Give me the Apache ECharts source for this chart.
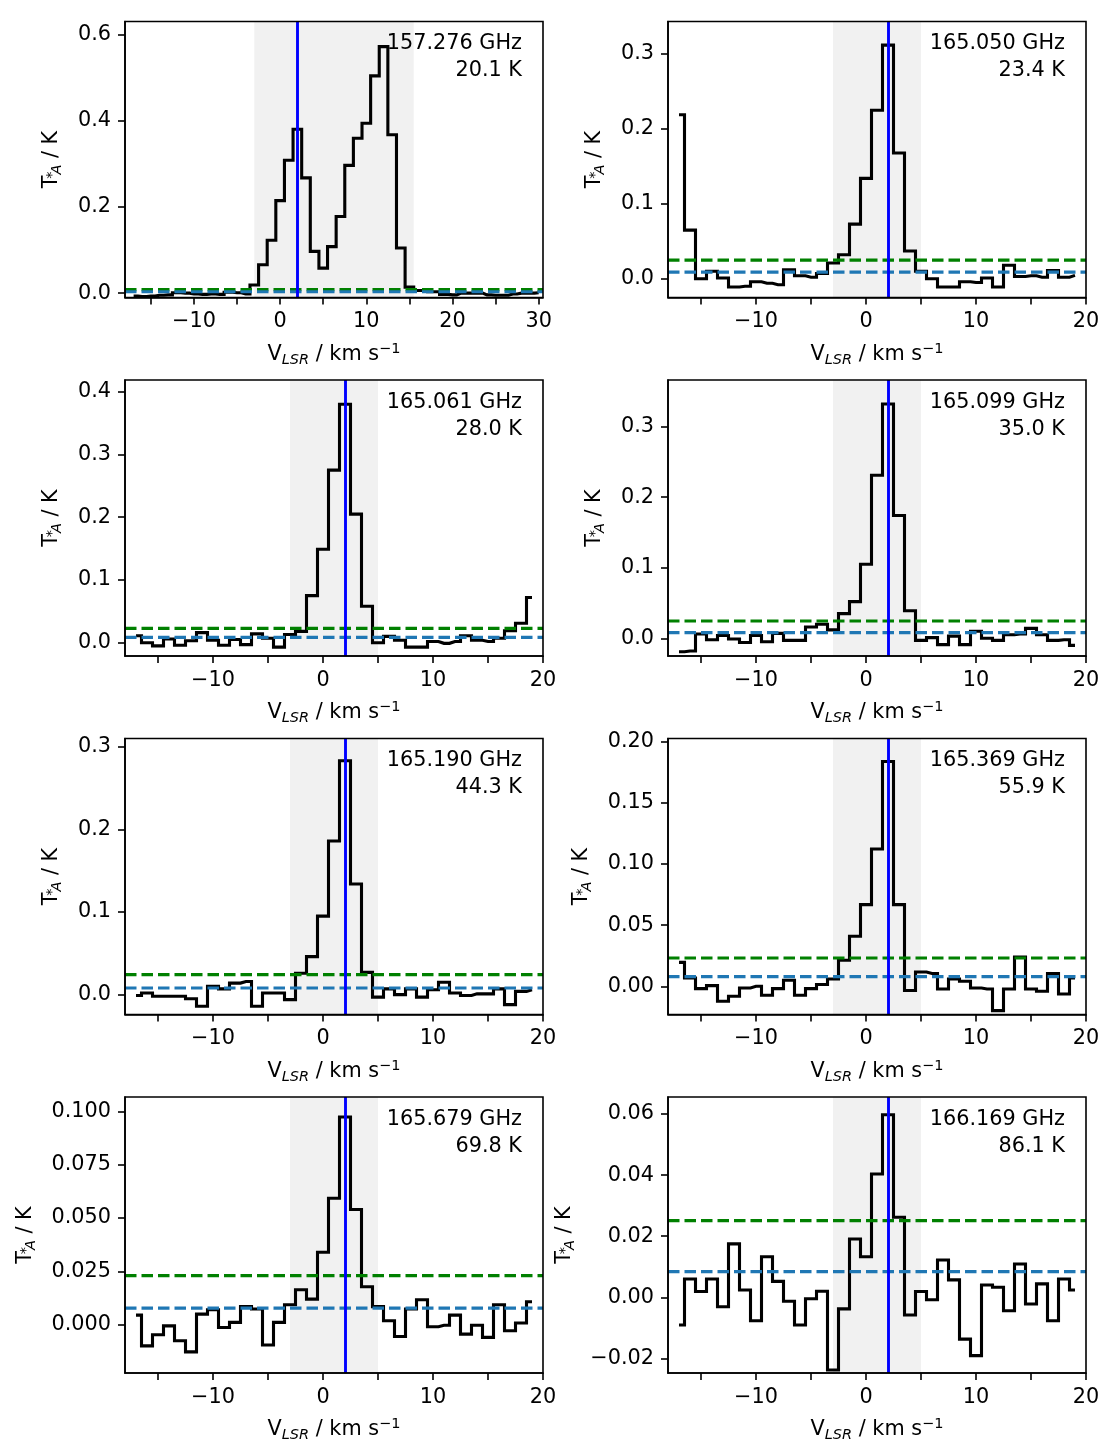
<!DOCTYPE html>
<html>
<head>
<meta charset="utf-8">
<script src="https://cdn.jsdelivr.net/npm/echarts@6/dist/echarts.min.js"></script>
<style>
  html, body { margin: 0; padding: 0; background: #fff; }
  #chart { width: 1115px; height: 1454px; }
</style>
</head>
<body>
<div id="chart"></div>
<script>
// channel velocities (km/s)
const velWide = [-17, -16, -15, -14, -13, -12, -11, -10, -9, -8, -7, -6, -5, -4, -3, -2, -1, 0, 1, 2, 3, 4, 5,
  6, 7, 8, 9, 10, 11, 12, 13, 14, 15, 16, 17, 18, 19, 20, 21, 22, 23, 24, 25, 26, 27, 28, 29, 30];
const velNarrow = [-17, -16, -15, -14, -13, -12, -11, -10, -9, -8, -7, -6, -5, -4, -3, -2, -1, 0, 1, 2, 3, 4, 5,
  6, 7, 8, 9, 10, 11, 12, 13, 14, 15, 16, 17, 18, 19];

// panel annotations
const freqLabels = ['157.276 GHz', '165.050 GHz', '165.061 GHz', '165.099 GHz',
  '165.190 GHz', '165.369 GHz', '165.679 GHz', '166.169 GHz'];
const eupLabels = ['20.1 K', '23.4 K', '28.0 K', '35.0 K', '44.3 K', '55.9 K', '69.8 K', '86.1 K'];

// spectra, T*A (K)
const spec157276 = [-0.007, -0.008, -0.007, -0.005, -0.004, 0.001, 0.000, -0.002, -0.003, -0.002, -0.003, 0.002, 0.001, -0.002,
  0.019, 0.066, 0.123, 0.215, 0.309, 0.381, 0.268, 0.097, 0.058, 0.108, 0.178, 0.297, 0.360, 0.395, 0.505, 0.573, 0.368, 0.105, 0.014,
  0.006, 0.003, 0.003, -0.003, -0.004, 0.000, 0.000, 0.000, -0.004, -0.005, -0.005, -0.002, 0.000, 0.000, 0.001];
const spec165050 = [0.219, 0.065, 0.000, 0.010, 0.001, -0.011, -0.010, -0.004, -0.006, -0.008, 0.012, 0.004, 0.002, 0.007,
  0.021, 0.032, 0.073, 0.134, 0.225, 0.312, 0.168, 0.037, 0.010, 0.000, -0.011, -0.011, -0.004, -0.005, 0.001, -0.011,
  0.018, 0.003, 0.004, 0.002, 0.011, 0.002, 0.0045];
const spec165061 = [0.011, 0.000, -0.005, 0.006, -0.004, 0.003, 0.016, 0.004, -0.004, 0.005, -0.003, 0.014, 0.007, -0.007,
  0.013, 0.018, 0.075, 0.149, 0.275, 0.380, 0.205, 0.058, 0.000, 0.010, 0.004, -0.007, -0.007, 0.002, -0.001, 0.002,
  0.011, 0.004, 0.002, 0.007, 0.019, 0.031, 0.072];
const spec165099 = [-0.019, -0.018, 0.006, -0.002, 0.004, -0.001, -0.006, 0.004, -0.005, 0.007, -0.003, -0.003, 0.016, 0.020,
  0.012, 0.035, 0.052, 0.105, 0.231, 0.332, 0.174, 0.039, -0.003, 0.001, -0.009, 0.003, -0.009, 0.010, 0.000, -0.003,
  0.005, 0.006, 0.014, 0.005, -0.003, -0.002, -0.010];
const spec165190 = [-0.001, 0.002, -0.002, -0.002, -0.002, -0.005, -0.014, 0.010, 0.007, 0.014, 0.016, -0.014, 0.002, 0.002,
  -0.006, 0.026, 0.046, 0.095, 0.186, 0.283, 0.134, 0.027, -0.003, 0.007, 0.000, 0.007, -0.003, 0.006, 0.015, 0.002,
  -0.001, 0.001, 0.001, 0.007, -0.012, 0.004, 0.006];
const spec165369 = [0.0196, 0.0068, -0.0019, 0.0005, -0.0123, -0.0082, -0.0014, 0.0000, -0.0074, -0.0019, 0.0049, -0.0074,
  -0.0019, 0.0014, 0.0060, 0.0213, 0.0410, 0.0668, 0.1124, 0.1840, 0.0668, -0.0035, 0.0117, 0.0104, -0.0022, 0.0060,
  0.0041, -0.0014, -0.0022, -0.0199, -0.0022, 0.0240, -0.0022, -0.0041, 0.0104, -0.0063, 0.0068];
const spec165679 = [0.0045, -0.0099, -0.0047, -0.0005, -0.0075, -0.0127, 0.0050, 0.0070, -0.0013, 0.0011, 0.0085, 0.0074,
  -0.0095, 0.0011, 0.0094, 0.0164, 0.0120, 0.0340, 0.0593, 0.0973, 0.0540, 0.0178, 0.0085, 0.0019, -0.0055, 0.0074,
  0.0117, -0.0009, -0.0002, 0.0045, -0.0044, -0.0002, -0.0059, 0.0094, -0.0028, 0.0008, 0.0108];
const spec166169 = [-0.0091, 0.0060, 0.0019, 0.0060, -0.0031, 0.0175, 0.0024, -0.0077, 0.0133, 0.0052, -0.0013, -0.0091,
  -0.0005, 0.0020, -0.0238, -0.0038, 0.0191, 0.0133, 0.0404, 0.0598, 0.0262, -0.0058, 0.0019, -0.0008, 0.0122, 0.0057,
  -0.0137, -0.0191, 0.0040, 0.0033, -0.0044, 0.0109, -0.0022, 0.0044, -0.0077, 0.0060, 0.0024];

// noise levels (K): detection limit (green) and rms (blue)
const detLimit = [0.008, 0.0249, 0.0228, 0.0246, 0.0242, 0.0232, 0.0230, 0.0251];
const rmsLevel = [0.003, 0.0089, 0.0085, 0.0080, 0.0081, 0.0079, 0.0078, 0.0084];

// integration windows and systemic velocity (km/s)
const winLo = [-3, -3, -3, -3, -3, -3, -3, -3];
const winHi = [15.5, 5, 5, 5, 5, 5, 5, 5];
const vSys = 2;

// axis ticks
const xTicksWide = [-15, -10, -5, 0, 5, 10, 15, 20, 25, 30];
const xLabelsWide = [-10, 0, 10, 20, 30];
const xTicksNarrow = [-15, -10, -5, 0, 5, 10, 15, 20];
const xLabelsNarrow = [-10, 0, 10, 20];
const yTicks = [
  [0, 0.2, 0.4, 0.6],
  [0, 0.1, 0.2, 0.3],
  [0, 0.1, 0.2, 0.3, 0.4],
  [0, 0.1, 0.2, 0.3],
  [0, 0.1, 0.2, 0.3],
  [0, 0.05, 0.1, 0.15, 0.2],
  [0, 0.025, 0.05, 0.075, 0.1],
  [-0.02, 0, 0.02, 0.04, 0.06]
];
const yDecimals = [1, 1, 1, 1, 1, 2, 3, 2];

// layout
const yRanges = [[-0.0102, 0.6314], [-0.025, 0.3435], [-0.0212, 0.4187], [-0.0251, 0.3661],
  [-0.024, 0.310], [-0.0231, 0.2028], [-0.0226, 0.1067], [-0.0248, 0.0656]];
const colLeft = [125, 668];
const rowTop = [21.5, 380, 738.5, 1097];
const plotW = 418, plotH = 276;
const yNameGap = [60, 60, 60, 60, 60, 73, 86, 90];
const FONT = 'DejaVu Sans';
const FS = 20.8;

const spectra = [spec157276, spec165050, spec165061, spec165099, spec165190, spec165369, spec165679, spec166169];

function fmt(v, dec) {
  const s = Math.abs(v).toFixed(dec);
  return v < -1e-12 ? '\u2212' + s : s;
}

const richName = {
  n: { fontSize: FS, fontFamily: FONT, color: '#000', lineHeight: 26 },
  sub: { fontSize: 14.5, fontFamily: FONT, fontStyle: 'italic', color: '#000', lineHeight: 12, verticalAlign: 'bottom' },
  sup: { fontSize: 14.5, fontFamily: FONT, color: '#000', lineHeight: 20, verticalAlign: 'top' },
  star: { fontSize: 14.5, fontFamily: FONT, color: '#000', lineHeight: 26, width: 1 }
};

const chart = echarts.init(document.getElementById('chart'));
const grids = [], xAxes = [], yAxes = [], series = [], graphics = [];

for (let i = 0; i < 8; i++) {
  const col = i % 2, row = Math.floor(i / 2);
  const left = colLeft[col], top = rowTop[row];
  const wide = i === 0;
  const vel = wide ? velWide : velNarrow;
  const xr = wide ? [-18, 30.5] : [-18, 20];

  grids.push({
    left: left, top: top, width: plotW, height: plotH,
    show: true, borderColor: '#000', borderWidth: 1.6, backgroundColor: 'transparent',
    containLabel: false, outerBoundsMode: 'none', z: 10
  });

  xAxes.push({
    gridIndex: i, type: 'value', min: xr[0], max: xr[1], z: 10,
    name: '{n|V}{sub|LSR}{n| / km s}{sup|\u22121}',
    nameLocation: 'middle', nameGap: 44, nameMoveOverlap: false,
    nameTextStyle: { rich: richName },
    axisLine: { show: true, onZero: false, lineStyle: { color: '#000', width: 1.6 } },
    axisTick: { show: true, inside: false, length: 7, lineStyle: { color: '#000', width: 1.6 },
      customValues: wide ? xTicksWide : xTicksNarrow },
    axisLabel: { show: true, margin: 14.5, fontSize: FS, lineHeight: 20, fontFamily: FONT, color: '#000',
      customValues: wide ? xLabelsWide : xLabelsNarrow, formatter: v => fmt(v, 0) },
    splitLine: { show: false }
  });

  yAxes.push({
    gridIndex: i, type: 'value', min: yRanges[i][0], max: yRanges[i][1], z: 10,
    name: '{n|T}{star|*}{sub|A}{n| / K}',
    nameLocation: 'middle', nameGap: yNameGap[i], nameMoveOverlap: false,
    nameTextStyle: { rich: richName },
    axisLine: { show: true, onZero: false, lineStyle: { color: '#000', width: 1.6 } },
    axisTick: { show: true, inside: false, length: 7, lineStyle: { color: '#000', width: 1.6 },
      customValues: yTicks[i] },
    axisLabel: { show: true, margin: 14, fontSize: FS, fontFamily: FONT, color: '#000',
      customValues: yTicks[i], formatter: v => fmt(v, yDecimals[i]) },
    splitLine: { show: false }
  });

  series.push({
    type: 'line', xAxisIndex: i, yAxisIndex: i, step: 'middle', symbol: 'none', silent: true,
    data: vel.map((v, k) => [v, spectra[i][k]]),
    lineStyle: { color: '#000', width: 3.1, join: 'miter' },
    z: 2,
    markArea: {
      silent: true, z: 1, itemStyle: { color: '#f1f1f1' },
      data: [[{ xAxis: winLo[i] }, { xAxis: winHi[i] }]]
    },
    markLine: {
      silent: true, z: 6, symbol: 'none', label: { show: false },
      lineStyle: { color: '#0000ff', width: 2.9, type: 'solid' },
      data: [{ xAxis: vSys }]
    }
  });

  series.push({
    type: 'line', xAxisIndex: i, yAxisIndex: i, symbol: 'none', silent: true, z: 3,
    data: [[xr[0], detLimit[i]], [xr[1], detLimit[i]]],
    lineStyle: { color: '#008000', width: 3.1, type: [11.5, 5] }
  });

  series.push({
    type: 'line', xAxisIndex: i, yAxisIndex: i, symbol: 'none', silent: true, z: 4,
    data: [[xr[0], rmsLevel[i]], [xr[1], rmsLevel[i]]],
    lineStyle: { color: '#1f77b4', width: 3.1, type: [11.5, 5] }
  });

  graphics.push({
    type: 'text', x: left + plotW - 21, y: top + 8.5, z: 20, silent: true,
    style: {
      text: freqLabels[i] + '\n' + eupLabels[i],
      align: 'right', verticalAlign: 'top',
      fontSize: FS, fontFamily: FONT, lineHeight: 27.3, fill: '#000'
    }
  });
}

chart.setOption({
  animation: false,
  backgroundColor: '#fff',
  grid: grids,
  xAxis: xAxes,
  yAxis: yAxes,
  series: series,
  graphic: graphics
});
</script>
</body>
</html>
